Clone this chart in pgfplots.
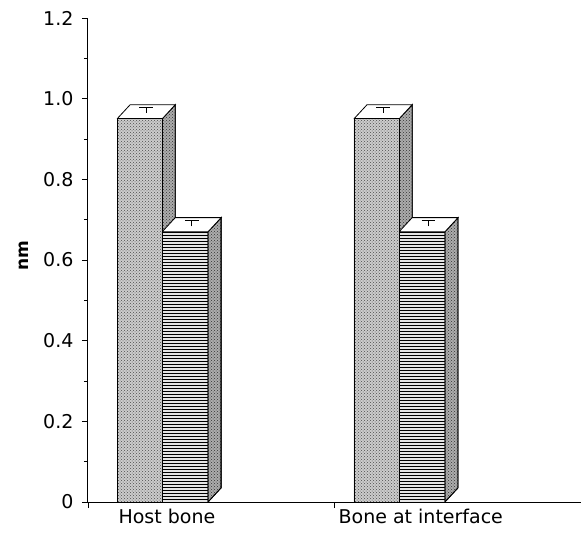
\documentclass[border=0pt]{standalone}
\usepackage{fontspec}
\setmainfont{DejaVu Sans}
\usepackage{pgfplots}
\pgfplotsset{compat=1.18}
\usetikzlibrary{patterns}

\begin{document}
\begin{tikzpicture}
\begin{axis}[
    scale only axis,
    at={(0,0)}, anchor=south west,
    width=493pt, height=484pt,
    xmin=0, xmax=2, ymin=0, ymax=1.2,
    axis x line=bottom, axis y line=left,
    axis line style={-, line width=1pt},
    tick align=outside,
    major tick length=6pt, minor tick length=4pt,
    tick style={black, line width=0.8pt},
    xtick={0,1}, xticklabels={},
    extra x ticks={0.32,1.35},
    extra x tick labels={Host bone, Bone at interface},
    extra x tick style={major tick length=0pt, tick label style={yshift=-4pt}},
    ytick={0,0.2,0.4,0.6,0.8,1.0,1.2},
    yticklabels={0,0.2,0.4,0.6,0.8,1.0,1.2},
    minor y tick num=1,
    tick label style={font=\fontsize{19}{22}\selectfont},
    y tick label style={xshift=-5pt},
    /pgf/number format/assume math mode=true,
    ylabel={\textbf{nm}},
    ylabel style={font=\fontsize{17}{20}\selectfont, xshift=4pt, yshift=8pt},
    clip=false,
]
% dotted bars: side faces
\addplot[draw=black, line width=0.8pt, fill=gray!65, postaction={pattern=crosshatch dots, pattern color=black!80}] coordinates {(0.301,0)(0.301,0.95)(0.354,0.985)(0.354,0.035)(0.301,0)};
\addplot[draw=black, line width=0.8pt, fill=gray!65, postaction={pattern=crosshatch dots, pattern color=black!80}] coordinates {(1.262,0)(1.262,0.95)(1.315,0.985)(1.315,0.035)(1.262,0)};
% dotted bars: top faces
\addplot[draw=black, line width=0.8pt, fill=white] coordinates {(0.118,0.95)(0.301,0.95)(0.354,0.985)(0.171,0.985)(0.118,0.95)};
\addplot[draw=black, line width=0.8pt, fill=white] coordinates {(1.079,0.95)(1.262,0.95)(1.315,0.985)(1.132,0.985)(1.079,0.95)};
% dotted bars: front faces
\addplot[ybar, bar width=0.183, bar shift=0, draw=black, line width=0.8pt, fill=gray!40, postaction={pattern=crosshatch dots, pattern color=black!70}] coordinates {(0.2095,0.95) (1.1705,0.95)};
% striped bars: front faces
\addplot[ybar, bar width=0.186, bar shift=0, draw=black, line width=0.8pt, fill=gray!20, postaction={pattern=horizontal lines, pattern color=black}] coordinates {(0.394,0.67) (1.355,0.67)};
% striped bars: side faces
\addplot[draw=black, line width=0.8pt, fill=gray!65, postaction={pattern=crosshatch dots, pattern color=black!80}] coordinates {(0.487,0)(0.487,0.67)(0.540,0.705)(0.540,0.035)(0.487,0)};
\addplot[draw=black, line width=0.8pt, fill=gray!65, postaction={pattern=crosshatch dots, pattern color=black!80}] coordinates {(1.448,0)(1.448,0.67)(1.501,0.705)(1.501,0.035)(1.448,0)};
% striped bars: top faces
\addplot[draw=black, line width=0.8pt, fill=white] coordinates {(0.301,0.67)(0.487,0.67)(0.540,0.705)(0.354,0.705)(0.301,0.67)};
\addplot[draw=black, line width=0.8pt, fill=white] coordinates {(1.262,0.67)(1.448,0.67)(1.501,0.705)(1.315,0.705)(1.262,0.67)};
% error bars on top faces
\addplot[black, line width=1.1pt, unbounded coords=jump] coordinates {
    (0.236,0.9655)(0.236,0.979) (nan,nan) (0.208,0.979)(0.264,0.979) (nan,nan)
    (1.197,0.9655)(1.197,0.979) (nan,nan) (1.169,0.979)(1.225,0.979) (nan,nan)
    (0.4205,0.6835)(0.4205,0.699) (nan,nan) (0.3925,0.699)(0.4485,0.699) (nan,nan)
    (1.3815,0.6835)(1.3815,0.699) (nan,nan) (1.3535,0.699)(1.4095,0.699)
};
\end{axis}
\pgfresetboundingbox
\path (-88pt,-31pt) rectangle (493pt,502pt);
\end{tikzpicture}
\end{document}
